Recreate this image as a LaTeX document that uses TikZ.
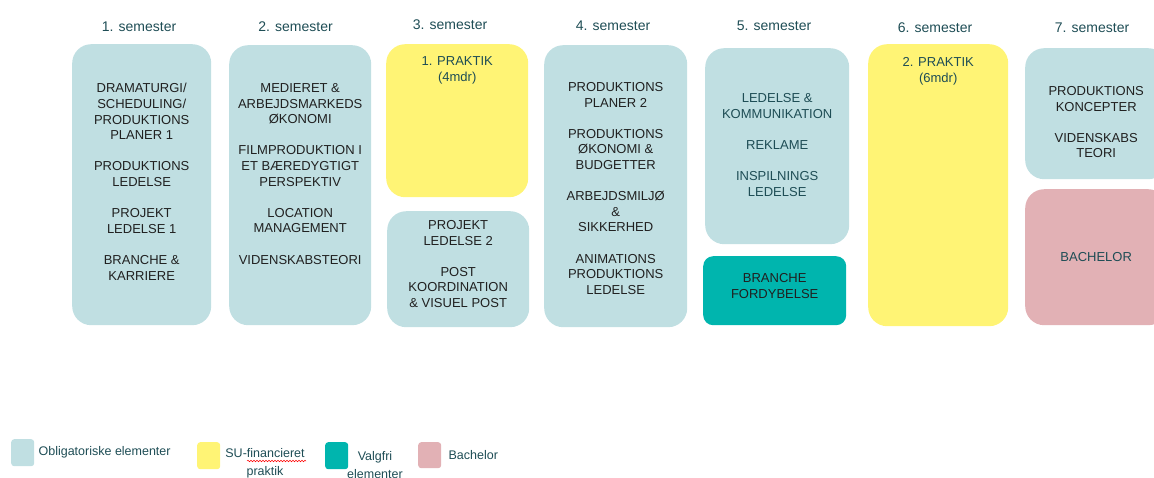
\documentclass[tikz,border=0pt]{standalone}
\usepackage{fontspec}
\setmainfont{Liberation Sans}
\usepackage{tikz}
\usetikzlibrary{positioning,decorations.pathmorphing}
\definecolor{obl}{HTML}{C0DFE2}
\definecolor{prak}{HTML}{FFF475}
\definecolor{valg}{HTML}{00B5AE}
\definecolor{bach}{HTML}{E2B1B5}
\definecolor{morkteal}{HTML}{1E4D55}
\definecolor{tekst}{HTML}{202020}

\begin{document}
\begin{tikzpicture}[x=1pt,y=-1pt]
			\tikzstyle{boks} = [rounded corners=19pt, inner sep=0pt, anchor=north west]
			\tikzstyle{fag} = [align=center, inner sep=0pt, anchor=north, text=tekst, font=\fontsize{13}{15.6}\selectfont]
			\tikzstyle{sem} = [anchor=base, inner sep=0pt, text=morkteal, font=\fontsize{14}{16}\selectfont]
			\tikzstyle{lgd} = [rounded corners=3pt, inner sep=0pt, anchor=north west, minimum width=23pt]
			\tikzstyle{lgtxt} = [align=center, inner sep=0pt, text=morkteal, font=\fontsize{12.5}{18}\selectfont]
			\useasboundingbox (0,0) rectangle (1154,477);
			\clip (0,0) rectangle (1154,477);
			\node[sem] (s1) at (139,31.5) {1. semester};
			\node[sem] (s2) at (295.5,31.5) {2. semester};
			\node[sem] (s3) at (450,29) {3. semester};
			\node[sem] (s4) at (613,30) {4. semester};
			\node[sem] (s5) at (774,30) {5. semester};
			\node[sem] (s6) at (935,32.5) {6. semester};
			\node[sem] (s7) at (1092,32.5) {7. semester};
			\node[boks, fill=obl, minimum width=139pt, minimum height=281pt] (b1) at (72,44) {};
			\node[boks, fill=obl, minimum width=142pt, minimum height=280pt] (b2) at (229,45) {};
			\node[boks, fill=prak, minimum width=142pt, minimum height=153pt] (b3p) at (386,44) {};
			\node[boks, fill=obl, minimum width=142pt, minimum height=116pt] (b3) at (387,211) {};
			\node[boks, fill=obl, minimum width=143pt, minimum height=282pt] (b4) at (544,45) {};
			\node[boks, fill=obl, minimum width=144pt, minimum height=196pt] (b5) at (705,48) {};
			\node[boks, fill=valg, rounded corners=10pt, minimum width=143pt, minimum height=69pt] (b5v) at (703,256) {};
			\node[boks, fill=prak, minimum width=140pt, minimum height=282pt] (b6) at (868,44) {};
			\node[boks, fill=obl, minimum width=142pt, minimum height=131pt] (b7) at (1025,48) {};
			\node[boks, fill=bach, minimum width=142pt, minimum height=136pt] (b7b) at (1025,189) {};
			\node[fag] (t1) at (b1.north |- 0,83.3) {DRAMATURGI/\\SCHEDULING/\\PRODUKTIONS\\PLANER 1\\[15.6pt]PRODUKTIONS\\LEDELSE\\[15.6pt]PROJEKT\\LEDELSE 1\\[15.6pt]BRANCHE \&\\KARRIERE};
			\node[fag] (t2) at (b2.north |- 0,83.3) {MEDIERET \&\\ARBEJDSMARKEDS\\ØKONOMI\\[15.6pt]FILMPRODUKTION I\\ET BÆREDYGTIGT\\PERSPEKTIV\\[15.6pt]LOCATION\\MANAGEMENT\\[15.6pt]VIDENSKABSTEORI};
			\node[fag, text=morkteal] (t3p) at (b3p.north |- 0,56.3) {1. PRAKTIK\\(4mdr)};
			\node[fag] (t3) at (b3.north |- 0,220.3) {PROJEKT\\LEDELSE 2\\[15.6pt]POST\\KOORDINATION\\\& VISUEL POST};
			\node[fag] (t4) at (b4.north |- 0,82.3) {PRODUKTIONS\\PLANER 2\\[15.6pt]PRODUKTIONS\\ØKONOMI \&\\BUDGETTER\\[15.6pt]ARBEJDSMILJØ\\\&\\SIKKERHED\\[15.6pt]ANIMATIONS\\PRODUKTIONS\\LEDELSE};
			\node[fag, text=morkteal] (t5) at (b5.north |- 0,93.3) {LEDELSE \&\\KOMMUNIKATION\\[15.6pt]REKLAME\\[15.6pt]INSPILNINGS\\LEDELSE};
			\node[fag] (t5v) at (b5v.north |- 0,273.3) {BRANCHE\\FORDYBELSE};
			\node[fag, text=morkteal] (t6) at (b6.north |- 0,57.3) {2. PRAKTIK\\(6mdr)};
			\node[fag] (t7) at (b7.north |- 0,86.3) {PRODUKTIONS\\KONCEPTER\\[15.6pt]VIDENSKABS\\TEORI};
			\node[fag, text=morkteal] (t7b) at (b7b.north |- 0,252.3) {BACHELOR};
			\node[lgd, fill=obl, minimum height=27pt] (lg1) at (11,439) {};
			\node[lgd, fill=prak, minimum height=27pt] (lg2) at (197,442) {};
			\node[lgd, fill=valg, minimum height=27pt] (lg3) at (325,442) {};
			\node[lgd, fill=bach, minimum height=26pt] (lg4) at (418,442) {};
			\node[lgtxt, right=4pt of lg1] (lt1) {Obligatoriske elementer};
			\node[lgtxt, anchor=north] (lt2) at (265,448.5) {SU-financieret\\praktik};
			\node[lgtxt, anchor=north] (lt3) at (375,451.5) {Valgfri\\elementer};
			\node[lgtxt, right=7pt of lg4] (lt4) {Bachelor};
			\draw[red, line width=0.5pt, decorate, decoration={snake, amplitude=0.8pt, segment length=3pt}] (247,461) -- (306,461);
		\end{tikzpicture}
\end{document}
